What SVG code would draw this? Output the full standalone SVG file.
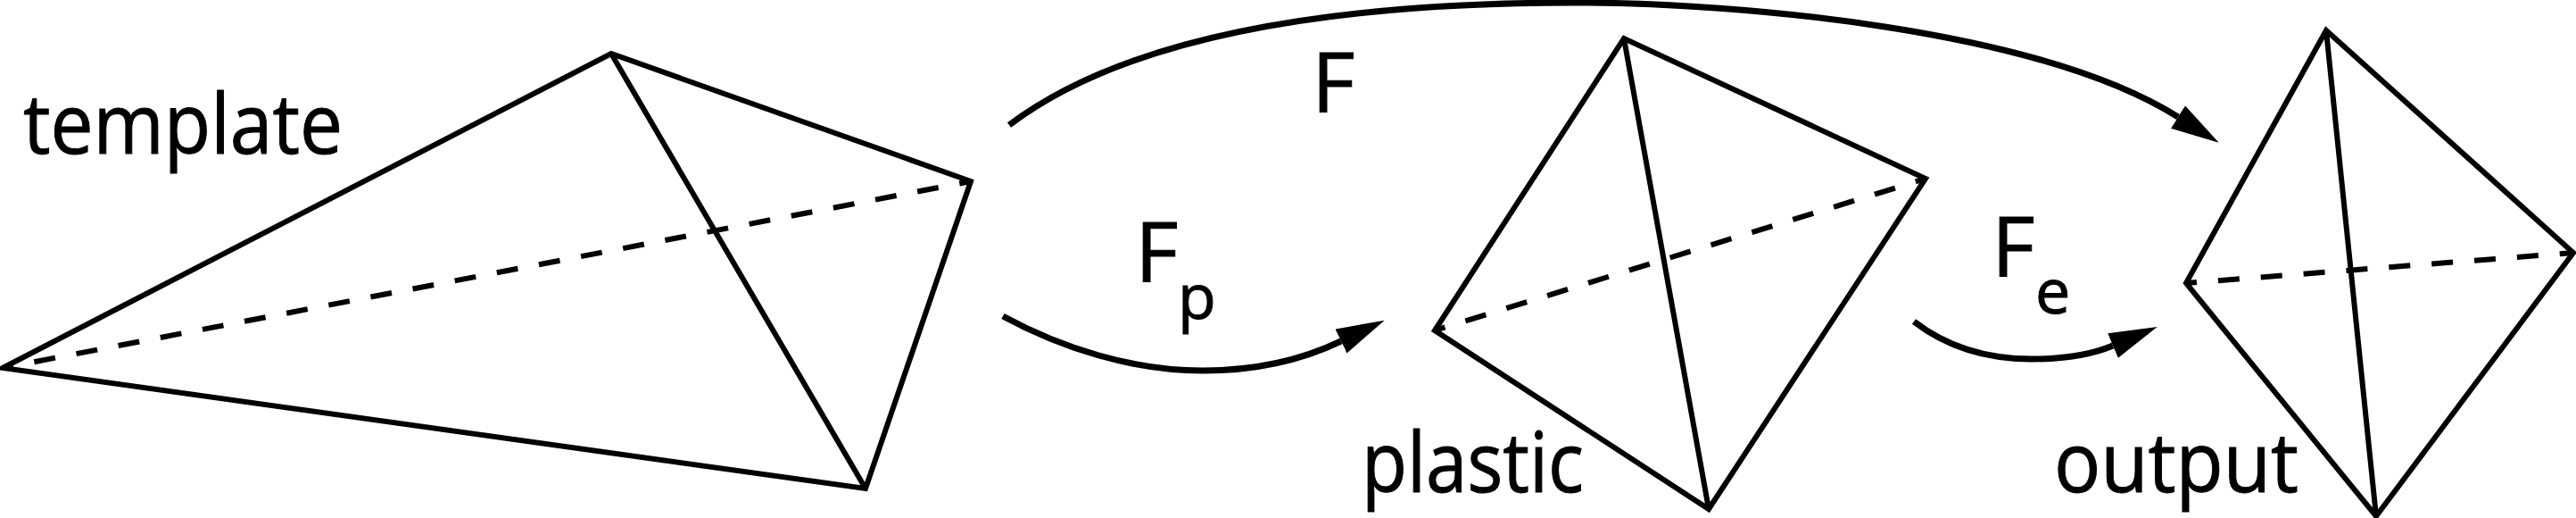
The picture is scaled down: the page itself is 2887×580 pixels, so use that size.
<svg xmlns="http://www.w3.org/2000/svg" width="2887" height="580" viewBox="0 0 2887 580">
<style>
.e{fill:none;stroke:#000;stroke-width:6;stroke-linejoin:miter}
.d{fill:none;stroke:#000;stroke-width:6;stroke-dasharray:24 24;stroke-dashoffset:12}
.a{fill:none;stroke:#000;stroke-width:7}
text{font-family:"Open Sans","Noto Sans",sans-serif;font-size:94px;fill:#000;stroke:#000;stroke-width:1}
.s{font-size:70px}
</style>
<defs>
<marker id="head" markerUnits="userSpaceOnUse" markerWidth="56" markerHeight="32" refX="0" refY="15" orient="auto">
<path d="M0 0L54 15L0 30Z" fill="#000"/>
</marker>
</defs>
<rect width="2887" height="580" fill="#fff"/>
<g id="connectors">
<path class="a" d="M1131 140C1270 35 1510 3 1766 3C1950 3 2285 33 2441 131" marker-end="url(#head)"/>
<path class="a" d="M1124 354C1190 390 1270 415 1348 415C1400 415 1455 405 1503 382" marker-end="url(#head)"/>
<path class="a" d="M2145 360C2180 387 2225 402 2277 402C2310 402 2342 398 2368 387" marker-end="url(#head)"/>
</g>
<g id="template">
<path class="e" d="M3 412L685 60L1088 203L970 547ZM685 60L970 547"/>
<path class="d" d="M3 412L1088 203"/>
<text x="26" y="172" textLength="358" lengthAdjust="spacingAndGlyphs">template</text>
</g>
<g id="plastic">
<path class="e" d="M1608 370L1820 43L2158 200L1915 570ZM1820 43L1915 570"/>
<path class="d" d="M1608 370L2158 200"/>
<text x="1526" y="551" textLength="249" lengthAdjust="spacingAndGlyphs">plastic</text>
</g>
<g id="output">
<path class="e" d="M2450 317L2607 34L2884 283L2663 578ZM2607 34L2663 578"/>
<path class="d" d="M2450 317L2884 283"/>
<text x="2302" y="551" textLength="274" lengthAdjust="spacingAndGlyphs">output</text>
</g>
<g id="label-F"><text x="1470" y="126">F</text></g>
<g id="label-Fp"><text x="1272" y="316">F</text><text class="s" x="1320" y="357">p</text></g>
<g id="label-Fe"><text x="2232" y="310">F</text><text class="s" x="2281" y="351">e</text></g>
</svg>
